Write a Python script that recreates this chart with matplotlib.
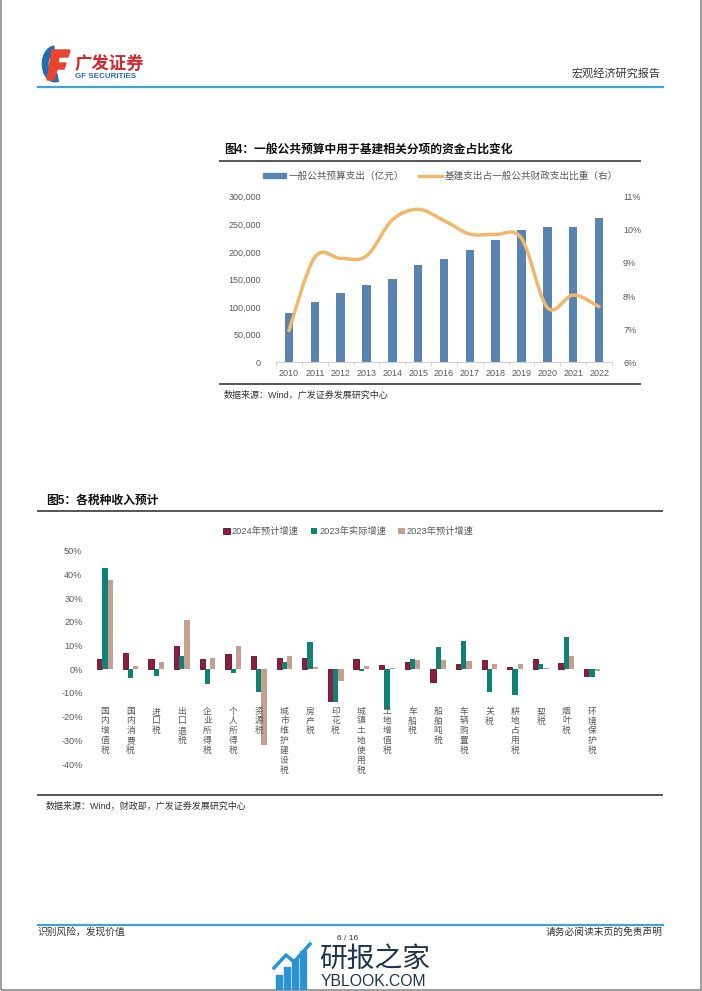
import matplotlib
matplotlib.use("Agg")
import matplotlib.pyplot as plt
import numpy as np
from matplotlib.path import Path
from matplotlib.patches import PathPatch, Wedge, Polygon, Rectangle
from matplotlib.lines import Line2D
from matplotlib.ticker import FuncFormatter

plt.rcParams["font.family"] = ["Liberation Sans", "Noto Sans CJK SC", "DejaVu Sans"]

# ---- data: figure 4 ----
years = [str(y) for y in range(2010, 2023)]
budget_spend = [89874, 109248, 125953, 140212, 151786, 175878, 187755,
                203085, 220904, 238858, 245679, 245673, 260552]
infra_share = [6.96, 9.17, 9.14, 9.21, 10.30, 10.62, 10.28,
               9.87, 9.86, 9.74, 7.65, 8.03, 7.68]

# ---- data: figure 5 ----
tax_names = ["国内增值税", "国内消费税", "进口税", "出口退税", "企业所得税",
             "个人所得税", "资源税", "城市维护建设税", "房产税", "印花税",
             "城镇土地使用税", "土地增值税", "车船税", "船舶吨税", "车辆购置税",
             "关税", "耕地占用税", "契税", "烟叶税", "环境保护税"]
growth_2024_plan = [4.2, 7.0, 4.1, 9.9, 4.5, 6.3, 5.4, 4.9, 4.8, -13.5,
                    4.5, 1.8, 3.2, -5.5, 2.3, 3.8, 1.1, 4.5, 2.7, -2.7]
growth_2023_actual = [42.5, -3.7, -2.8, 5.4, -6.1, -1.4, -9.7, 3.0, 11.4, -13.9,
                      -0.7, -17.0, 4.2, 9.4, 12.0, -9.7, -10.7, 2.1, 13.5, -3.1]
growth_2023_plan = [37.6, 1.3, 3.1, 20.7, 4.6, 9.7, -32.1, 5.4, 0.8, -4.9,
                    1.3, 0.4, 3.7, 3.9, 3.5, 2.0, 2.0, 0.6, 5.4, -0.6]
series_labels = ["2024年预计增速", "2023年实际增速", "2023年预计增速"]

W, H = 702, 991
fig = plt.figure(figsize=(W / 100, H / 100), dpi=100)


def rect(x0, y0, x1, y1):
    return [x0 / W, 1 - y1 / H, (x1 - x0) / W, (y1 - y0) / H]


def ftext(x, y, s, **kw):
    fig.text(x / W, 1 - y / H, s, **kw)


def fline(x0, x1, y, color, lw):
    fig.add_artist(Line2D([x0 / W, x1 / W], [1 - y / H, 1 - y / H],
                          color=color, lw=lw, transform=fig.transFigure))


GRAY = "#595959"

# ---------------- page frame, header, footer ----------------
fig.add_artist(Rectangle((0.0008, 0.0008), 0.9984, 1.2, transform=fig.transFigure,
                         fill=False, edgecolor="#8c8c8c", lw=1.2))

# logo icon
fig.add_artist(Wedge((55 / W, 1 - 64 / H), 0.018, 95, 285, width=0.008,
                     transform=fig.transFigure, color="#1f6fb5"))
fig.add_artist(Polygon([(52 / W, 1 - 50 / H), (70 / W, 1 - 50 / H), (68 / W, 1 - 57 / H),
                        (59 / W, 1 - 57 / H), (58 / W, 1 - 63 / H), (66 / W, 1 - 63 / H),
                        (64 / W, 1 - 69 / H), (57 / W, 1 - 69 / H), (54 / W, 1 - 80 / H),
                        (47 / W, 1 - 80 / H)],
                       closed=True, transform=fig.transFigure, color="#e8442e"))
ftext(75, 63, "广发证券", fontsize=12.5, fontweight="bold", color="#d9262e",
      va="center", ha="left")
ftext(75, 77, "GF SECURITIES", fontsize=5.8, fontweight="bold", color="#1f6fb5",
      va="center", ha="left")
ftext(661, 73, "宏观经济研究报告", fontsize=8, color="#333333", va="center", ha="right")
fline(38, 663, 87, "#3fa3d6", 1.6)

fline(38, 663, 925, "#3fa3d6", 1.6)
ftext(38, 932, "识别风险，发现价值", fontsize=7, color="#333333", va="center", ha="left")
ftext(663, 932, "请务必阅读末页的免责声明", fontsize=7, color="#333333", va="center", ha="right")

# watermark
for bx, bh in [(276, 14), (284, 22), (292, 30), (300, 38)]:
    fig.add_artist(Rectangle((bx / W, 1 - 989 / H), 5.5 / W, bh / H,
                             transform=fig.transFigure, color="#2b93d3"))
fig.add_artist(Line2D([274 / W, 286 / W, 294 / W, 310 / W],
                      [1 - 968 / H, 1 - 955 / H, 1 - 962 / H, 1 - 944 / H],
                      transform=fig.transFigure, color="#2b93d3", lw=2.5))
ftext(319, 960, "研报之家", fontsize=20, color="#1e3550", va="center", ha="left")
ftext(321, 981, "YBLOOK.COM", fontsize=11.3, color="#1e3550", va="center", ha="left")
ftext(348, 939, "6 / 16", fontsize=6, color="#333333", va="center", ha="center")

# ---------------- figure 4 ----------------
ftext(224, 150, "图4：一般公共预算中用于基建相关分项的资金占比变化",
      fontsize=8.5, fontweight="bold", color="#111111", va="center", ha="left")
fline(220, 640, 160.5, "#555555", 1.4)
fline(220, 640, 384, "#555555", 1.4)
ftext(224, 395, "数据来源：Wind，广发证券发展研究中心", fontsize=6.5, color="#333333",
      va="center", ha="left")

ax1 = fig.add_axes(rect(276, 196.7, 612, 362.3))
x = np.arange(len(years))
ax1.bar(x, budget_spend, width=0.33, color="#5a84b0", zorder=2)
ax1.set_xlim(-0.5, len(years) - 0.5)
ax1.set_ylim(0, 300000)
ax1.set_yticks(np.arange(0, 300001, 50000))
ax1.yaxis.set_major_formatter(FuncFormatter(lambda v, p: f"{v:,.0f}"))
ax1.set_xticks(x)
ax1.set_xticklabels(years)
ax1.set_xticks(np.arange(-0.5, len(years)), minor=True)
ax1.tick_params(axis="x", which="major", length=0, pad=5, labelsize=6.5, colors=GRAY)
ax1.tick_params(axis="x", which="minor", length=3, color="#d0d0d0")
ax1.tick_params(axis="y", length=0, pad=11, labelsize=6.5, colors=GRAY)
for s in ("top", "left", "right"):
    ax1.spines[s].set_visible(False)
ax1.spines["bottom"].set_color("#d0d0d0")
ax1.patch.set_alpha(0)

ax2 = ax1.twinx()
ax2.set_ylim(6, 11)
ax2.set_yticks(range(6, 12))
ax2.yaxis.set_major_formatter(FuncFormatter(lambda v, p: f"{v:.0f}%"))
ax2.tick_params(axis="y", length=0, pad=8, labelsize=6.5, colors=GRAY)
for s in ("top", "left", "right", "bottom"):
    ax2.spines[s].set_visible(False)

# smoothed line (Catmull-Rom as cubic Bezier segments)
pts = np.column_stack([x, infra_share]).astype(float)
verts = [tuple(pts[0])]
codes = [Path.MOVETO]
n = len(pts)
for i in range(n - 1):
    p0 = pts[max(i - 1, 0)]
    p1 = pts[i]
    p2 = pts[i + 1]
    p3 = pts[min(i + 2, n - 1)]
    c1 = p1 + (p2 - p0) / 6
    c2 = p2 - (p3 - p1) / 6
    verts += [tuple(c1), tuple(c2), tuple(p2)]
    codes += [Path.CURVE4] * 3
ax2.add_patch(PathPatch(Path(verts, codes), facecolor="none", edgecolor="#f0b86c",
                        lw=2.5, capstyle="round", zorder=3))

handles = [Rectangle((0, 0), 1, 1, color="#5a84b0"),
           Line2D([0], [0], color="#f0b86c", lw=2.5)]
ax1.legend(handles, ["一般公共预算支出（亿元）", "基建支出占一般公共财政支出比重（右）"],
           loc="center", bbox_to_anchor=(0.49, 1.128), ncol=2, frameon=False,
           fontsize=6.9, handlelength=2.4, handleheight=0.45, columnspacing=1.6,
           handletextpad=0.25, labelcolor=GRAY)

# ---------------- figure 5 ----------------
ftext(46, 501, "图5：各税种收入预计", fontsize=8.5, fontweight="bold", color="#111111",
      va="center", ha="left")
fline(38, 662, 511, "#555555", 1.4)
fline(38, 662, 795, "#555555", 1.4)
ftext(46, 806, "数据来源：Wind，财政部，广发证券发展研究中心", fontsize=6.5, color="#333333",
      va="center", ha="left")

ax3 = fig.add_axes(rect(89.6, 550.7, 617.6, 764))
xi = np.arange(len(tax_names))
bw = 0.205
colors = ["#8e1c3e", "#0f8276", "#c5a08f"]
edges = ["#5a0e26", "#0f8276", "#c5a08f"]
for k, vals in enumerate([growth_2024_plan, growth_2023_actual, growth_2023_plan]):
    ax3.bar(xi + (k - 1) * bw, np.array(vals) / 100, width=bw, color=colors[k],
            edgecolor=edges[k], linewidth=0.6 if k == 0 else 0, label=series_labels[k],
            zorder=2)
ax3.set_xlim(-0.6, 20.0)
ax3.set_ylim(-0.4, 0.5)
ax3.set_yticks(np.arange(-0.4, 0.51, 0.1))
ax3.yaxis.set_major_formatter(FuncFormatter(lambda v, p: f"{round(v * 100):.0f}%"))
ax3.tick_params(axis="y", length=0, pad=5, labelsize=6.6, colors=GRAY)
ax3.set_xticks([])
for s in ("top", "left", "right", "bottom"):
    ax3.spines[s].set_visible(False)
ax3.patch.set_alpha(0)
for i, name in enumerate(tax_names):
    ax3.text(i, -0.158, "\n".join(name), ha="center", va="top", fontsize=6.3,
             color=GRAY, linespacing=1.12, transform=ax3.transData)
ax3.legend(loc="center", bbox_to_anchor=(0.49, 1.09), ncol=3, frameon=False,
           fontsize=6.7, handlelength=0.7, handleheight=0.7, handletextpad=0.2,
           columnspacing=1.3, labelcolor=GRAY)

fig.savefig("out.png", dpi=100)
